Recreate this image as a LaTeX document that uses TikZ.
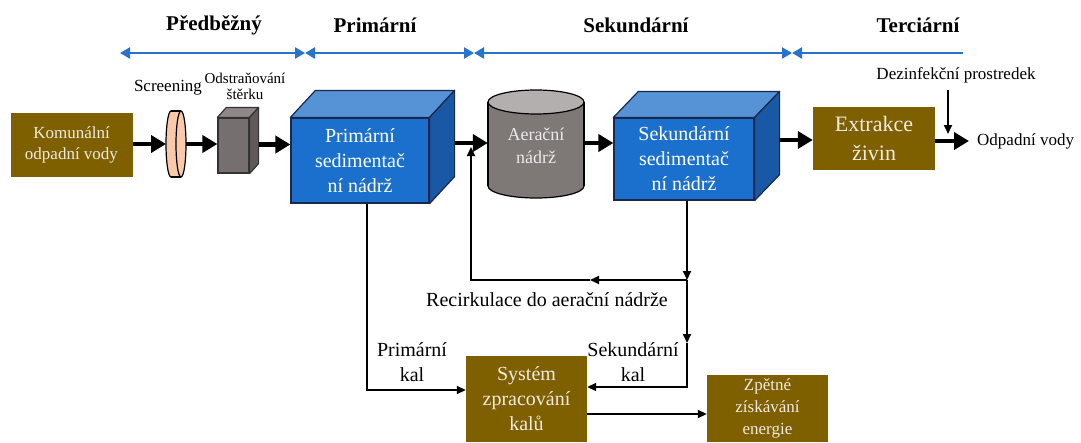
\documentclass[tikz,border=0pt]{standalone}
\usepackage{fontspec}
\setmainfont{Liberation Serif}
\usetikzlibrary{arrows.meta,calc}
\definecolor{brn}{RGB}{127,96,0}
\definecolor{cream}{RGB}{240,234,222}
\definecolor{bfront}{RGB}{26,112,204}
\definecolor{btop}{RGB}{85,146,214}
\definecolor{bside}{RGB}{24,88,165}
\definecolor{bedge}{RGB}{25,40,75}
\definecolor{phblue}{RGB}{40,116,202}
\definecolor{cylbody}{RGB}{126,120,119}
\definecolor{cyltop}{RGB}{179,175,174}
\definecolor{gfront}{RGB}{117,112,111}
\definecolor{gtop}{RGB}{142,137,136}
\definecolor{gside}{RGB}{95,90,89}
\definecolor{lens}{RGB}{249,201,170}
\newcommand{\boxthreed}[5]{%
  \filldraw[fill=#4,draw=bedge,line width=1.2pt,line join=round]
    (#1.north west) -- ++(#2,#3) -- ($(#1.north east)+(#2,#3)$) -- (#1.north east) -- cycle;
  \filldraw[fill=#5,draw=bedge,line width=1.2pt,line join=round]
    (#1.north east) -- ++(#2,#3) -- ($(#1.south east)+(#2,#3)$) -- (#1.south east) -- cycle;
}
\tikzset{
  flow/.style={line width=4.5pt,-{Triangle[length=15pt,width=17pt]}},
  thinarr/.style={line width=1.8pt,-{Triangle[length=9pt,width=8pt]}},
  phase/.style={draw=phblue,line width=2.5pt},
  phtip/.tip={Triangle[length=10pt,width=11pt]},
  brownbox/.style={fill=brn,text=cream,align=center,inner sep=0pt},
  bluebox/.style={fill=bfront,draw=bedge,line width=1.2pt,text=white,align=center,inner sep=0pt,
    font=\fontsize{20}{25}\selectfont},
  hdr/.style={font=\fontsize{21}{24}\selectfont\bfseries},
  lbl/.style={align=center,inner sep=0pt},
}
\begin{document}
\begin{tikzpicture}[x=1pt,y=-1pt]
\useasboundingbox (0,0) rectangle (1081,442);
\clip (0,0) rectangle (1081,442);

% phase headers
\node[hdr] (h1) at (214,25) {Předběžný};
\node[hdr] (h2) at (375,25) {Primární};
\node[hdr] (h3) at (636,25) {Sekundární};
\node[hdr] (h4) at (918,25) {Terciární};
\coordinate (p0) at (120,53);
\coordinate (p1) at (305,53);
\coordinate (p2) at (474,53);
\coordinate (p3) at (792,53);
\coordinate (p4) at (963,53);
\draw[phase,phtip-phtip] (p0) -- (p1);
\draw[phase,phtip-phtip] (p1) -- (p2);
\draw[phase,phtip-phtip] (p2) -- (p3);
\draw[phase,phtip-] (p3) -- (p4);

% input box
\node[brownbox,minimum width=122pt,minimum height=64pt,font=\fontsize{17}{21}\selectfont] (kom) at (71.5,145) {Komunální\\odpadní vody};

% screening lens
\node[lbl,font=\fontsize{17}{20}\selectfont] (scr) at (168,88) {Screening};
\filldraw[fill=lens,draw=black,line width=1.2pt] (171,144) ellipse[x radius=5,y radius=33];
\fill[lens] (171,111) rectangle (181,177);
\draw[line width=1.2pt] (171,111) -- (181,111) (171,177) -- (181,177);
\filldraw[fill=lens,draw=black,line width=1.2pt] (181,144) ellipse[x radius=5,y radius=33];
\coordinate (lensL) at (166,144);
\coordinate (lensR) at (186,144);

% grit removal
\node[lbl,font=\fontsize{15}{16}\selectfont] (gritlbl) at (245,86) {Odstraňování\\štěrku};
\node[fill=gfront,draw=black!80,line width=1.2pt,minimum width=31pt,minimum height=55pt,inner sep=0pt] (grit) at (233.5,145.5) {};
\filldraw[fill=gtop,draw=black!80,line width=1.2pt,line join=round]
  (grit.north west) -- ++(9,-10) -- ($(grit.north east)+(9,-10)$) -- (grit.north east) -- cycle;
\filldraw[fill=gside,draw=black!80,line width=1.2pt,line join=round]
  (grit.north east) -- ++(9,-10) -- ($(grit.south east)+(9,-10)$) -- (grit.south east) -- cycle;
\coordinate (gritR) at ($(grit.east)+(9,-1)$);

% primary sedimentation
\node[bluebox,minimum width=138pt,minimum height=85pt] (prim) at (360,160.5) {Primární\\sedimentač\\ní nádrž};
\boxthreed{prim}{25}{-27}{btop}{bside}
\coordinate (primR) at (455,143);

% aeration tank
\filldraw[fill=cylbody,draw=black,line width=1.2pt] (536,186) ellipse[x radius=48,y radius=12];
\fill[cylbody] (488,102) rectangle (584,186);
\draw[line width=1.2pt] (488,102) -- (488,186) (584,102) -- (584,186);
\filldraw[fill=cyltop,draw=black,line width=1.2pt] (536,102) ellipse[x radius=48,y radius=12];
\node[lbl,minimum width=96pt,minimum height=84pt,text=black!8,font=\fontsize{18}{23}\selectfont] (aer) at (536,146) {Aerační\\nádrž};

% secondary sedimentation
\node[bluebox,minimum width=140pt,minimum height=82pt] (sec) at (684,159) {Sekundární\\sedimentač\\ní nádrž};
\boxthreed{sec}{25}{-26}{btop}{bside}
\coordinate (secR) at (779,140);

% nutrient extraction
\node[brownbox,minimum width=122pt,minimum height=63pt,font=\fontsize{22}{29}\selectfont] (ext) at (874,138.5) {Extrakce\\živin};
\coordinate (outC) at (969,141);
\node[anchor=west,inner sep=0pt,font=\fontsize{17}{20}\selectfont] (out) at (977,141) {Odpadní vody};
\node[lbl,font=\fontsize{17}{20}\selectfont] (dez) at (956,75) {Dezinfekční prostredek};
\coordinate (dtop) at (948,90);
\coordinate (dbot) at (948,134);

% sludge treatment
\node[brownbox,minimum width=121pt,minimum height=86pt,font=\fontsize{20}{25}\selectfont] (sys) at (526.5,399) {Systém\\zpracování\\kalů};
\node[brownbox,minimum width=121pt,minimum height=67pt,font=\fontsize{17}{22}\selectfont] (zp) at (767.5,408.5) {Zpětné\\získávání\\energie};

% main flow arrows
\draw[flow] (kom.east |- lensL) -- (lensL);
\draw[flow] (lensR) -- (grit.west |- lensR);
\draw[flow] (gritR) -- (prim.west |- gritR);
\draw[flow] (primR) -- (aer.west |- primR);
\draw[flow] (aer.east |- primR) -- (sec.west |- primR);
\draw[flow] (secR) -- (ext.west |- secR);
\draw[flow] (ext.east |- outC) -- (outC);
\draw[thinarr] (dtop) -- (dbot);

% recirculation and sludge lines
\coordinate (pdrop) at (367,0);
\coordinate (J) at (687,280);
\coordinate (m1) at (590,280);
\coordinate (recup) at (471,147);
\coordinate (m2) at (687,343);
\draw[thinarr] (prim.south -| pdrop) |- ($(sys.west)+(0,-9)$);
\draw[thinarr] (sec.south -| J) -- (J);
\draw[thinarr] (J) -- (m1);
\draw[thinarr] (m1) -| (recup);
\draw[thinarr] (J) -- (m2);
\draw[thinarr] (m2) |- ($(sys.east)+(0,-12)$);
\draw[thinarr] ($(sys.east)+(0,15)$) -- ($(zp.west)+(0,5.5)$);

\node[lbl,font=\fontsize{20}{25}\selectfont] (rec) at (547,300) {Recirkulace do aerační nádrže};
\node[lbl,font=\fontsize{20}{25}\selectfont] (pk) at (412,362) {Primární\\kal};
\node[lbl,font=\fontsize{20}{25}\selectfont] (sk) at (633,362) {Sekundární\\kal};
\end{tikzpicture}
\end{document}
